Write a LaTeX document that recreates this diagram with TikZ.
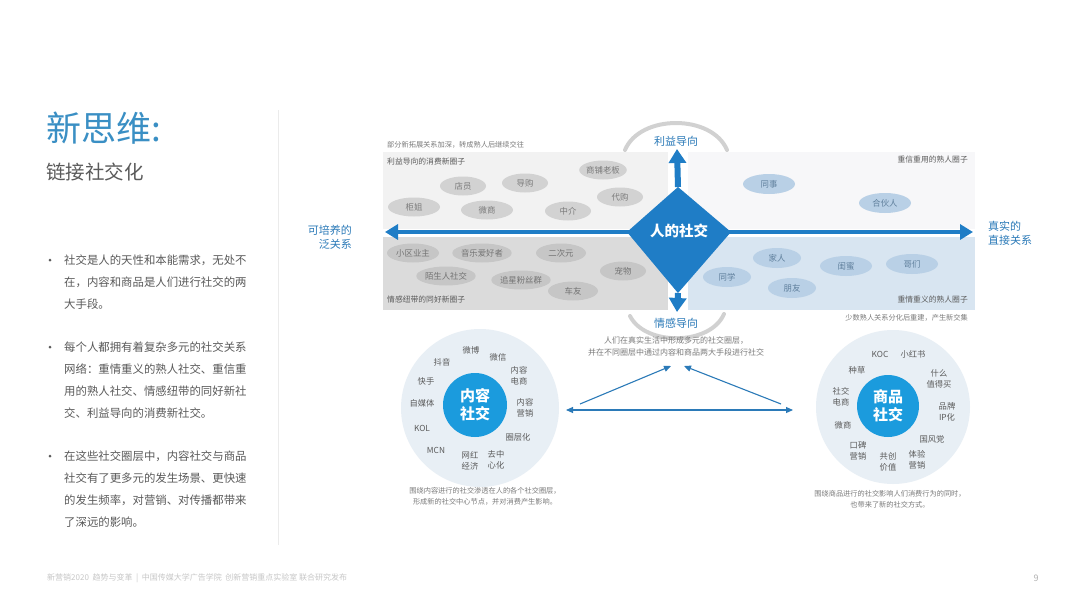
\documentclass[tikz,border=0pt]{standalone}
\usepackage{fontspec}
\setmainfont{Noto Sans CJK SC}
\usetikzlibrary{positioning,calc,arrows.meta,shapes.geometric}

\definecolor{axisblue}{HTML}{1F7DC6}
\definecolor{titleblue}{HTML}{3A8FC4}
\definecolor{labblue}{HTML}{2B7AB8}
\definecolor{hubblue}{HTML}{1B9BDD}
\definecolor{ringgray}{HTML}{E8EFF5}
\definecolor{txtgray}{HTML}{5A5A5A}
\definecolor{capgray}{HTML}{7A7A7A}
\definecolor{bubgray}{HTML}{D2D2D2}
\definecolor{bubgraydk}{HTML}{C6C6C6}
\definecolor{bubblue}{HTML}{B9D0E6}
\definecolor{bubbluetxt}{HTML}{5F7F9C}

\newcommand\fsz[2]{\fontsize{#1}{#2}\selectfont}

\tikzset{
  gbub/.style={ellipse, fill=bubgray, text=capgray, inner sep=0pt,
    minimum width=46pt, minimum height=19pt, font=\fsz{8.4}{10}},
  gbubdk/.style={gbub, fill=bubgraydk, text=black!55},
  bbub/.style={ellipse, fill=bubblue, text=bubbluetxt, inner sep=0pt,
    minimum width=48pt, minimum height=20pt, font=\fsz{8.4}{10}},
  capt/.style={text=capgray, inner sep=0pt, font=\fsz{7.2}{11}},
  boxlab/.style={text=txtgray, inner sep=0pt, font=\fsz{7.8}{10}},
  axlab/.style={text=labblue, inner sep=0pt, font=\fsz{11}{13}},
  ringlab/.style={text=txtgray, inner sep=0pt, align=center, font=\fsz{8.3}{11}},
  hub/.style={circle, fill=hubblue, text=white, inner sep=0pt, align=center,
    font=\fsz{15}{18}\bfseries},
  ring/.style={circle, fill=ringgray, inner sep=0pt},
  bullet/.style={circle, fill=txtgray, inner sep=0pt, minimum size=3pt},
  para/.style={text=txtgray, inner sep=0pt, align=left, anchor=north west,
    font=\fsz{11.4}{22}},
  thinarrow/.style={draw=labblue, line width=1.1pt, -{Triangle[width=6pt,length=7pt]}},
}

\begin{document}
\begin{tikzpicture}[x=1pt,y=-1pt]
	\useasboundingbox (0,0) rectangle (1080,608);
	\fill[white] (0,0) rectangle (1080,608);

	% title column
	\node[text=titleblue, anchor=west, inner sep=0pt, font=\fsz{35}{40}] (title) at (46,128) {新思维:};
	\node[text=txtgray, anchor=west, inner sep=0pt, font=\fsz{19.5}{22}] (subtitle) at (46,172) {链接社交化};
	\draw[black!8, line width=0.8pt] (278,110) -- (278,545);

	\node[bullet] (dot1) at (50,260) {};
	\node[bullet] (dot2) at (50,347) {};
	\node[bullet] (dot3) at (50,456) {};
	\node[para] (para1) at (64,255) {社交是人的天性和本能需求，无处不\\在，内容和商品是人们进行社交的两\\大手段。};
	\node[para] (para2) at (64,342) {每个人都拥有着复杂多元的社交关系\\网络：重情重义的熟人社交、重信重\\用的熟人社交、情感纽带的同好新社\\交、利益导向的消费新社交。};
	\node[para] (para3) at (64,451) {在这些社交圈层中，内容社交与商品\\社交有了更多元的发生场景、更快速\\的发生频率，对营销、对传播都带来\\了深远的影响。};

	% four quadrants
	\fill[black!5] (383,152) rectangle (668,229);
	\fill[blue!20!black!3] (688,152) rectangle (975,229);
	\fill[black!14] (383,237) rectangle (668,310);
	\fill[bubblue!55] (688,237) rectangle (975,310);

	\node[capt, anchor=west] (topnote) at (387,145) {部分新拓展关系加深，转成熟人后继续交往};
	\node[boxlab, anchor=west] (qTL) at (387,162) {利益导向的消费新圈子};
	\node[boxlab, anchor=east] (qTR) at (968,160) {重信重用的熟人圈子};
	\node[boxlab, anchor=west] (qBL) at (387,300) {情感纽带的同好新圈子};
	\node[boxlab, anchor=east] (qBR) at (968,300) {重情重义的熟人圈子};
	\node[capt, anchor=east] (botnote) at (968,318) {少数熟人关系分化后重建，产生新交集};

	% bubbles
	\node[gbub] (dianyuan) at (463,186) {店员};
	\node[gbub] (daogou) at (525,183) {导购};
	\node[gbub] (laoban) at (603,170) {商铺老板};
	\node[gbub] (daigou) at (620,197) {代购};
	\node[gbub, minimum width=52pt] (guijie) at (414,207) {柜姐};
	\node[gbub, minimum width=52pt] (weishang) at (487,210) {微商};
	\node[gbub] (zhongjie) at (568,211) {中介};
	\node[bbub, minimum width=52pt] (tongshi) at (769,184) {同事};
	\node[bbub, minimum width=52pt] (huoban) at (885,203) {合伙人};

	\node[gbubdk, minimum width=52pt] (yezhu) at (413,253) {小区业主};
	\node[gbubdk, minimum width=54pt] (yinyue) at (482,253) {音乐爱好者};
	\node[gbubdk, minimum width=50pt] (erciyuan) at (561,253) {二次元};
	\node[gbubdk, minimum width=50pt] (mosheng) at (446,276) {陌生人社交};
	\node[gbubdk, minimum width=52pt] (zhuixing) at (521,280) {追星粉丝群};
	\node[gbubdk] (chongwu) at (623,271) {宠物};
	\node[gbubdk, minimum width=50pt] (cheyou) at (573,291) {车友};
	\node[bbub] (jiaren) at (777,258) {家人};
	\node[bbub] (tongxue) at (727,277) {同学};
	\node[bbub] (pengyou) at (792,288) {朋友};
	\node[bbub, minimum width=52pt] (guimi) at (846,266) {闺蜜};
	\node[bbub, minimum width=52pt] (gemen) at (912,264) {哥们};

	% axes
	\coordinate (axL) at (385,232);
	\coordinate (axR) at (973,232);
	\coordinate (axT) at (677,149);
	\coordinate (axB) at (677,312);
	\coordinate (dT) at (678,187);
	\coordinate (dL) at (627,232);
	\coordinate (dR) at (731,232);
	\coordinate (dB) at (678,293);
	\draw[axisblue, line width=4pt, {Triangle[width=15pt,length=13pt]}-{Triangle[width=15pt,length=13pt]}] (axL) -- (axR);
	\draw[axisblue, line width=6pt, -{Triangle[width=17pt,length=14pt]}] (dT) -- (axT);
	\draw[axisblue, line width=6pt, -{Triangle[width=17pt,length=14pt]}] (dB) -- (axB);
	\fill[axisblue] (dT) -- (dR) -- (dB) -- (dL) -- cycle;
	\node[text=white, inner sep=0pt, font=\fsz{14.5}{16}\bfseries] (core) at (679,231) {人的社交};

	\draw[black!18, line width=4pt, line cap=round] (625,150) .. controls (640,114) and (712,114) .. (727,150);
	\draw[black!18, line width=4pt, line cap=round] (630,316) .. controls (645,346) and (710,346) .. (724,314);
	\node[axlab] (liyi) at (676,141) {利益导向};
	\node[axlab] (qinggan) at (676,323) {情感导向};
	\node[axlab, align=right, anchor=east, font=\fsz{11}{14}] (fan) at (352,237) {可培养的\\泛关系};
	\node[axlab, align=left, anchor=west, font=\fsz{11}{14}] (zhijie) at (988,233) {真实的\\直接关系};

	\node[capt, align=center, font=\fsz{8}{12}] (midnote) at (676,346) {人们在真实生活中形成多元的社交圈层，\\并在不同圈层中通过内容和商品两大手段进行社交};

	% triangle of arrows
	\coordinate (triL) at (566,410);
	\coordinate (triR) at (793,410);
	\coordinate (triLs) at (580,404);
	\coordinate (triRs) at (781,404);
	\coordinate (triTL) at (671,366);
	\coordinate (triTR) at (684,366);
	\draw[thinarrow] (triLs) -- (triTL);
	\draw[thinarrow] (triRs) -- (triTR);
	\draw[thinarrow, {Triangle[width=6pt,length=7pt]}-{Triangle[width=6pt,length=7pt]}] (triL) -- (triR);

	% content circle
	\node[ring, minimum size=158pt] (ringC) at (480,408) {};
	\node[hub, minimum size=64pt] (neirong) at (475,405) {内容\\社交};
	\node[ringlab] (weibo) at (471,350) {微博};
	\node[ringlab] (douyin) at (442,362) {抖音};
	\node[ringlab] (weixin) at (498,357) {微信};
	\node[ringlab] (nrds) at (519,376) {内容\\电商};
	\node[ringlab] (kuaishou) at (426,381) {快手};
	\node[ringlab] (zimeiti) at (422,403) {自媒体};
	\node[ringlab] (nryx) at (525,408) {内容\\营销};
	\node[ringlab] (kol) at (422,428) {KOL};
	\node[ringlab] (quanceng) at (518,437) {圈层化};
	\node[ringlab] (mcn) at (436,450) {MCN};
	\node[ringlab] (wanghong) at (470,461) {网红\\经济};
	\node[ringlab] (quzhongxin) at (496,460) {去中\\心化};
	\node[capt, align=center] (captC) at (485,496) {围绕内容进行的社交渗透在人的各个社交圈层，\\形成新的社交中心节点，并对消费产生影响。};

	% goods circle
	\node[ring, minimum size=154pt] (ringG) at (893,407) {};
	\node[hub, minimum size=62pt] (shangpin) at (888,406) {商品\\社交};
	\node[ringlab] (koc) at (880,354) {KOC};
	\node[ringlab] (xhs) at (913,354) {小红书};
	\node[ringlab] (zhongcao) at (857,370) {种草};
	\node[ringlab] (smzdm) at (939,379) {什么\\值得买};
	\node[ringlab] (shejiao) at (841,397) {社交\\电商};
	\node[ringlab] (ip) at (947,412) {品牌\\IP化};
	\node[ringlab] (weishang2) at (843,425) {微商};
	\node[ringlab] (guofeng) at (932,439) {国风党};
	\node[ringlab] (koubei) at (858,451) {口碑\\营销};
	\node[ringlab] (gongchuang) at (888,462) {共创\\价值};
	\node[ringlab] (tiyan) at (917,460) {体验\\营销};
	\node[capt, align=center] (captG) at (890,499) {围绕商品进行的社交影响人们消费行为的同时，\\也带来了新的社交方式。};

	% footer
	\node[text=black!22, anchor=west, inner sep=0pt, font=\fsz{8}{10}] (footer) at (47,578) {新营销2020\ \ 趋势与变革\ \ |\ \ 中国传媒大学广告学院\ \ 创新营销重点实验室\ 联合研究发布};
	\node[text=black!30, inner sep=0pt, font=\fsz{9}{10}] (pageno) at (1036,578) {9};
\end{tikzpicture}
\end{document}
